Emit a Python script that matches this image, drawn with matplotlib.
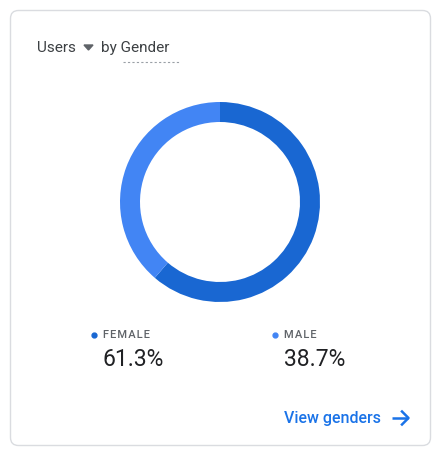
import matplotlib
matplotlib.use("Agg")
import matplotlib.pyplot as plt
from matplotlib.patches import FancyBboxPatch

categories = ["FEMALE", "MALE"]
values = [61.3, 38.7]
colors = ["#1967d2", "#4285f4"]

W, H = 442, 457
fig = plt.figure(figsize=(W/100, H/100), dpi=100)
bg = fig.add_axes([0, 0, 1, 1])
bg.set_xlim(0, W); bg.set_ylim(H, 0); bg.axis("off")
bg.add_patch(FancyBboxPatch((10.5, 10.5), 420, 435, boxstyle="round,pad=0,rounding_size=8",
                            fc="white", ec="#dadce0", lw=1))
bg.text(37, 48, "Users", fontsize=11, color="#3c4043", va="center", family="Roboto")
bg.fill([84, 93, 88.5], [45, 45, 50], color="#5f6368")
bg.text(101, 48, "by Gender", fontsize=11, color="#3c4043", va="center", family="Roboto")
bg.plot([123, 179], [62, 62], ls=(0, (2, 2)), color="#9aa0a6", lw=0.8)

xs = [103, 284]
for x, c, cat, v in zip(xs, colors, categories, values):
    bg.plot(x - 9, 335, "o", ms=3.5, color=c)
    bg.text(x, 335, "\u200a".join(cat), fontsize=8, color="#5f6368", va="center", family="Roboto", weight="medium")
    bg.text(x, 359, f"{v}%", fontsize=16.5, color="#202124", va="center", family="Roboto")

bg.text(284, 418, "View genders", fontsize=11.5, color="#1a73e8", va="center", family="Roboto", weight="medium")
bg.plot([392, 408], [418, 418], color="#1a73e8", lw=1.8, solid_capstyle="butt")
bg.plot([402, 408.5, 402], [411.5, 418, 424.5], color="#1a73e8", lw=1.8)

pa = fig.add_axes([120/W, (H-302)/H, 200/W, 200/H])
pa.pie(values, colors=colors, startangle=90, counterclock=False, radius=1,
       wedgeprops=dict(width=0.2, edgecolor="none"))
pa.set_xlim(-1, 1); pa.set_ylim(-1, 1)
pa.set_aspect("equal")
fig.savefig("out.png", dpi=100)
